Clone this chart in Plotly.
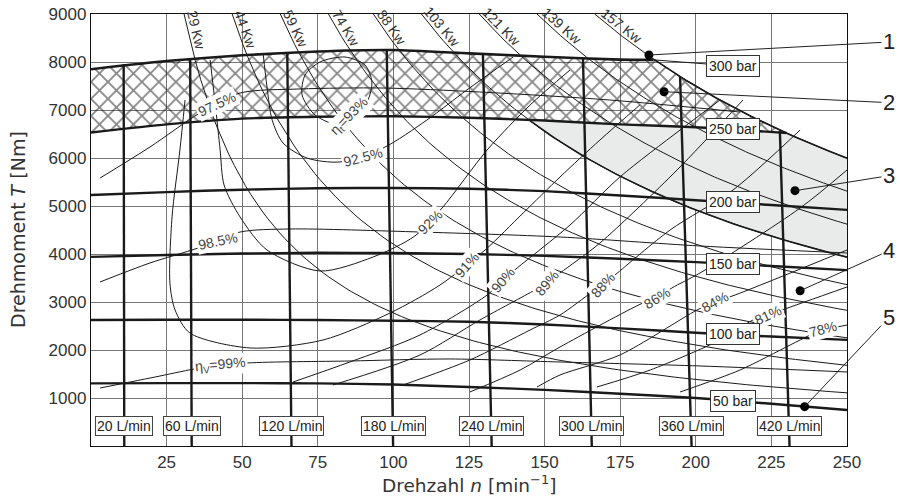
import math
import numpy as np
import plotly.graph_objects as go

# ---------------- data ----------------
x_ticks = [25, 50, 75, 100, 125, 150, 175, 200, 225, 250]
y_ticks = [1000, 2000, 3000, 4000, 5000, 6000, 7000, 8000, 9000]
x_title = "Drehzahl <i>n</i> [min<sup>−1</sup>]"
y_title = "Drehmoment <i>T</i> [Nm]"

# pressure lines (torque vs speed)
p_n = [0, 25, 50, 75, 100, 125, 150, 175, 200, 225, 250]
p50 = [1305, 1310, 1310, 1305, 1280, 1230, 1170, 1090, 1000, 880, 750]
p100 = [2625, 2630, 2630, 2625, 2610, 2590, 2530, 2450, 2360, 2280, 2210]
p150 = [3940, 3980, 4010, 4025, 4020, 4000, 3960, 3900, 3830, 3750, 3665]
p200 = [5230, 5290, 5340, 5370, 5375, 5360, 5310, 5220, 5120, 5020, 4920]
p250_n = [0, 25, 50, 75, 100, 125, 150, 175, 200, 230]
p250 = [6530, 6700, 6820, 6860, 6870, 6840, 6780, 6700, 6640, 6520]
pmax_n = [0, 25, 50, 75, 100, 125, 150, 175, 186]
pmax = [7850, 8020, 8140, 8220, 8250, 8180, 8110, 8050, 8045]
pmax_ext_n = [186, 212]
pmax_ext_T = [8045, 7917]

pressure_labels = ["50 bar", "100 bar", "150 bar", "200 bar", "250 bar", "300 bar"]
pressure_label_T = [937, 2340, 3800, 5080, 6604, 7917]
pressure_label_n = 212.3

# flow lines (L/min)
flow_labels = ["20 L/min", "60 L/min", "120 L/min", "180 L/min",
               "240 L/min", "300 L/min", "360 L/min", "420 L/min"]
flow_n_bottom = [11.0, 33.3, 66.3, 99.9, 132.5, 165.6, 198.6, 231.0]
flow_n_top = [10.8, 32.8, 64.9, 97.8, 129.6, 162.7, 194.8, 227.8]
flow_T_top = [7960, 8080, 8210, 8250, 8170, 8070, 7690, 6570]
flow_label_T = 417

# constant power lines (kW)
kw_values = [29, 44, 59, 74, 88, 103, 121, 139, 157]
kw_label_T = 8620

# volumetric efficiency lines
ev99_n = [3.0, 22.8, 36.0, 51.6, 85.6, 118.7, 155.1, 201.4, 250]
ev99_T = [1208, 1458, 1625, 1729, 1771, 1813, 1750, 1667, 1542]
ev985_n = [3.0, 19.5, 35.4, 49.3, 65.8, 108.8, 155.1, 201.4, 250]
ev985_T = [3417, 3813, 4125, 4458, 4521, 4458, 4354, 4167, 4021]
ev975_n = [3.0, 19.5, 36.0, 49.3, 69.1, 96.6, 128.6, 171.6, 214.6]
ev975_T = [5583, 6229, 6938, 7354, 7438, 7458, 7375, 7208, 6958]

# total efficiency contours
et93_n = [82.3, 74.1, 69.8, 70.8, 75.7, 84.0, 90.6, 92.9, 91.6, 88.3, 82.3]
et93_T = [6688, 6896, 7313, 7729, 8000, 8104, 7938, 7583, 7208, 6958, 6688]
et925_n = [56.9, 58.2, 59.9, 63.5, 71.4, 82.3, 96.6, 111.1, 124.3, 139.6]
et925_T = [8188, 7479, 6792, 6313, 6000, 5917, 6208, 6792, 7417, 8104]
et92_n = [39.4, 41.3, 42.7, 44.0, 49.3, 58.2, 75.7, 93.3, 107.1, 116.1, 131.0, 145.2, 158.4]
et92_T = [8042, 7000, 6167, 5438, 4771, 4083, 3646, 3938, 4375, 4958, 6167, 7104, 7833]
et91_n = [31.1, 29.4, 26.8, 26.1, 27.8, 32.7, 52.6, 76.7, 98.9, 115.4, 130.3, 142.9, 155.1, 168.3, 181.5]
et91_T = [7208, 6167, 4771, 3396, 2833, 2354, 2042, 2208, 2771, 3354, 4083, 4854, 5604, 6375, 7104]
et90_n = [66.8, 85.6, 108.8, 131.0, 136.2, 140.9, 158.4, 174.9, 194.8, 208.0]
et90_T = [1333, 1750, 2313, 3146, 3458, 3708, 4604, 5604, 6583, 7208]
et89_n = [80.0, 108.8, 128.6, 146.8, 150.8, 155.1, 168.3, 193.8, 215.6]
et89_T = [1271, 1896, 2625, 3250, 3396, 3604, 4229, 5750, 7208]
et88_n = [103.2, 125.3, 145.2, 155.1, 165.7, 169.3, 173.3, 191.5, 212.3, 234.5]
et88_T = [1271, 1792, 2417, 2729, 3208, 3354, 3563, 4500, 5333, 6583]
et86_n = [125.3, 141.9, 155.1, 182.5, 187.2, 192.1, 201.4, 234.5, 250]
et86_T = [1125, 1583, 2063, 2979, 3083, 3292, 3604, 4958, 5750]
et84_n = [147.5, 155.1, 174.9, 200.4, 206.3, 213.0, 250]
et84_T = [1229, 1479, 1896, 2833, 3000, 3146, 4083]
et81_n = [167.3, 184.9, 208.0, 218.9, 223.9, 228.5, 250]
et81_T = [1229, 1583, 2208, 2625, 2729, 2833, 3313]
et78_n = [194.8, 214.6, 231.2, 237.8, 242.1, 246.7, 250]
et78_T = [1125, 1583, 2104, 2313, 2438, 2479, 2521]

eff_label_text = ["η<sub>t</sub>=93%", "92.5%", "92%", "91%", "90%", "89%", "88%",
                  "86%", "84%", "81%", "78%", "97.5%", "98.5%", "η<sub>V</sub>=99%"]
eff_label_n = [85.6, 89.9, 112.1, 124.3, 136.2, 150.8, 169.3, 187.2, 206.3, 223.9, 242.1, 41.7, 42.0, 42.7]
eff_label_T = [6875, 6030, 4667, 3771, 3458, 3396, 3354, 3083, 3000, 2729, 2438, 7125, 4271, 1688]
eff_label_angle = [-45, -15, -45, -48, -50, -50, -48, -32, -28, -25, -15, -25, -12, -5]

# callout points
callout_text = ["1", "2", "3", "4", "5"]
callout_n = [184.5, 189.5, 232.8, 234.5, 236.0]
callout_T = [8146, 7381, 5319, 3235, 819]
callout_ax = [240, 225, 94, 89, 84]
callout_ay = [-13, 11, -15, -40, -89]

# ---------------- helpers ----------------
K = 60000 / (2 * math.pi)   # T[Nm] = P[kW] * K / n[min^-1]
W, H = 900, 497
ML, MR, MT, MB = 91, 53, 14, 51
PW, PH = W - ML - MR, H - MT - MB
PXN = PW / 250.0
PXT = PH / 9000.0
FONT = "Liberation Sans, Arial, sans-serif"
TFONT = "DejaVu Sans, Liberation Sans, sans-serif"
NARROW = "Liberation Sans Narrow, Liberation Sans, Arial, sans-serif"
INK = "#1a1a1a"


def kw_curve(P, n0, n1, num=80):
    ns = np.linspace(n0, n1, num)
    return ns, P * K / ns


fig = go.Figure()

# grey region: between 103 kW line and min(250 bar, 157 kW)
fine = np.linspace(120, 170, 2001)
diff = np.interp(fine, p250_n, p250) - 103 * K / fine
n_a = float(fine[np.argmin(np.abs(diff))])
up_n = [n_a] + [n for n in p250_n if n > n_a]
up_T = [float(np.interp(n_a, p250_n, p250))] + [t for n, t in zip(p250_n, p250) if n > n_a]
k157_n, k157_T = kw_curve(157, p250_n[-1], 250, 30)
k103_n, k103_T = kw_curve(103, n_a, 250, 60)
grey_x = list(up_n) + list(k157_n) + list(k103_n[::-1])
grey_y = list(up_T) + list(k157_T) + list(k103_T[::-1])
fig.add_trace(go.Scatter(x=grey_x, y=grey_y, fill="toself", mode="lines",
                         line=dict(width=0), fillcolor="#e9eaea", hoverinfo="skip"))

# hatched region: between 250 bar line and max torque, limited by 157 kW
h_n, h_T = kw_curve(157, pmax_n[-1], p250_n[-1], 30)
hx = list(pmax_n) + list(h_n) + list(p250_n[::-1])
hy = list(pmax) + list(h_T) + list(p250[::-1])
fig.add_trace(go.Scatter(x=hx, y=hy, fill="toself", mode="lines", line=dict(width=0),
                         fillcolor="rgba(0,0,0,0)",
                         fillpattern=dict(shape="x", fgcolor="#111111", size=12, solidity=0.28),
                         hoverinfo="skip"))

# constant power hyperbolas
for P in kw_values:
    ns, Ts = kw_curve(P, P * K / 9000, 250, 120)
    fig.add_trace(go.Scatter(x=ns, y=Ts, mode="lines", line=dict(color=INK, width=1),
                             hoverinfo="skip"))
# heavier boundaries (157 kW right edge, 103 kW grey lower edge)
b_n, b_T = kw_curve(157, pmax_n[-1], 250, 60)
fig.add_trace(go.Scatter(x=b_n, y=b_T, mode="lines", line=dict(color=INK, width=1.7), hoverinfo="skip"))
fig.add_trace(go.Scatter(x=k103_n, y=k103_T, mode="lines", line=dict(color=INK, width=1.6), hoverinfo="skip"))

# efficiency lines
thin_sets = [(ev99_n, ev99_T), (ev985_n, ev985_T), (ev975_n, ev975_T),
             (et93_n, et93_T), (et925_n, et925_T), (et92_n, et92_T), (et91_n, et91_T),
             (et90_n, et90_T), (et89_n, et89_T), (et88_n, et88_T), (et86_n, et86_T),
             (et84_n, et84_T), (et81_n, et81_T), (et78_n, et78_T)]
for xs, ys in thin_sets:
    fig.add_trace(go.Scatter(x=xs, y=ys, mode="lines",
                             line=dict(color=INK, width=1, shape="spline", smoothing=0.8),
                             hoverinfo="skip"))

# pressure lines
for ys in [p50, p100, p150, p200]:
    fig.add_trace(go.Scatter(x=p_n, y=ys, mode="lines",
                             line=dict(color=INK, width=2.4, shape="spline", smoothing=0.6),
                             hoverinfo="skip"))
fig.add_trace(go.Scatter(x=p250_n, y=p250, mode="lines",
                         line=dict(color=INK, width=2.4, shape="spline", smoothing=0.6), hoverinfo="skip"))
fig.add_trace(go.Scatter(x=pmax_n, y=pmax, mode="lines",
                         line=dict(color=INK, width=2.6, shape="spline", smoothing=0.6), hoverinfo="skip"))
fig.add_trace(go.Scatter(x=pmax_ext_n, y=pmax_ext_T, mode="lines",
                         line=dict(color=INK, width=1), hoverinfo="skip"))

# flow lines
for nb, nt, tt in zip(flow_n_bottom, flow_n_top, flow_T_top):
    fig.add_trace(go.Scatter(x=[nb, nt], y=[0, tt], mode="lines",
                             line=dict(color=INK, width=2.4), hoverinfo="skip"))

# callout dots
fig.add_trace(go.Scatter(x=callout_n, y=callout_T, mode="markers",
                         marker=dict(color="#000", size=9), cliponaxis=False, hoverinfo="skip"))

ann = []
# kW labels
for P in kw_values:
    n_l = P * K / kw_label_T
    a = math.degrees(math.atan((kw_label_T / n_l) * PXT / PXN))
    ar = math.radians(a)
    ann.append(dict(x=n_l, y=kw_label_T, xref="x", yref="y", text=f"{P} Kw", showarrow=False,
                    textangle=a, xshift=8 * math.sin(ar), yshift=8 * math.cos(ar),
                    font=dict(family=FONT, size=14, color="#333")))
# efficiency labels
for t, n_l, T_l, ang in zip(eff_label_text, eff_label_n, eff_label_T, eff_label_angle):
    ann.append(dict(x=n_l, y=T_l, xref="x", yref="y", text=t, showarrow=False, textangle=ang,
                    bgcolor="white", borderpad=1,
                    font=dict(family=NARROW, size=14, color="#444")))
# pressure label boxes
for t, T_l in zip(pressure_labels, pressure_label_T):
    ann.append(dict(x=pressure_label_n, y=T_l, xref="x", yref="y", text=t, showarrow=False,
                    bgcolor="white", bordercolor="#333", borderwidth=1, borderpad=2,
                    font=dict(family=FONT, size=14, color="#222")))
# flow label boxes
for t, nb in zip(flow_labels, flow_n_bottom):
    ann.append(dict(x=nb, y=flow_label_T, xref="x", yref="y", text=t, showarrow=False,
                    bgcolor="white", bordercolor="#444", borderwidth=1, borderpad=1,
                    font=dict(family=FONT, size=14, color="#222")))
# callouts
for t, n_c, T_c, ax, ay in zip(callout_text, callout_n, callout_T, callout_ax, callout_ay):
    ann.append(dict(x=n_c, y=T_c, xref="x", yref="y", text=t, showarrow=True, arrowhead=0,
                    arrowwidth=1, arrowcolor="#222", ax=ax, ay=ay, standoff=0,
                    font=dict(family=FONT, size=22, color="#222")))
# axis titles (placed as paper annotations for exact position)
ann.append(dict(x=0.5, y=-(484 - (MT + PH)) / PH, xref="paper", yref="paper", text=x_title,
                showarrow=False, xanchor="center", yanchor="middle",
                font=dict(family=TFONT, size=18.5, color="#333")))
ann.append(dict(x=(18 - ML) / PW, y=0.5, xref="paper", yref="paper", text=y_title,
                showarrow=False, xanchor="center", yanchor="middle", textangle=-90,
                font=dict(family=TFONT, size=19, color="#333")))

fig.update_layout(
    width=W, height=H, margin=dict(l=ML, r=MR, t=MT, b=MB, autoexpand=False),
    paper_bgcolor="white", plot_bgcolor="white", showlegend=False,
    annotations=ann,
    font=dict(family=FONT, color="#333"),
    xaxis=dict(range=[0, 250], tickvals=x_ticks, ticktext=[str(v) for v in x_ticks],
               showgrid=True, gridcolor="#777", gridwidth=1, zeroline=False, automargin=False,
               showline=True, linecolor="#111", linewidth=1.3, mirror=True,
               ticks="", tickfont=dict(size=17, color="#333")),
    yaxis=dict(range=[0, 9000], tickvals=y_ticks, ticktext=[str(v) for v in y_ticks],
               showgrid=True, gridcolor="#777", gridwidth=1, zeroline=False, automargin=False,
               showline=True, linecolor="#111", linewidth=1.3, mirror=True,
               ticks="", tickfont=dict(size=17, color="#333")),
)

fig.write_html("out.html", config={"displayModeBar": False},
               post_script="document.body.style.margin='0';")
